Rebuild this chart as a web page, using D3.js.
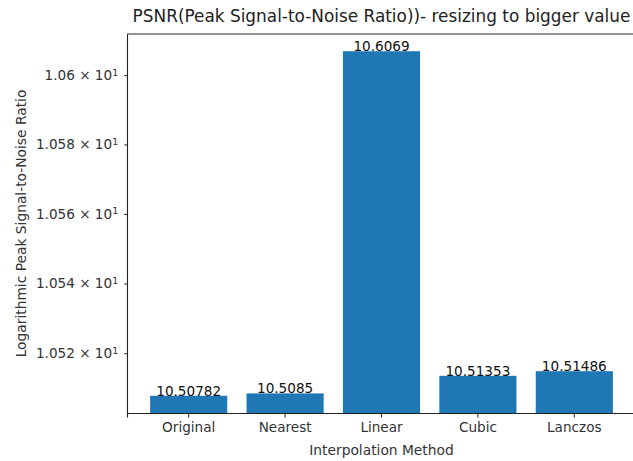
<!DOCTYPE html>
<html>
<head>
<meta charset="utf-8">
<script src="https://cdn.jsdelivr.net/npm/d3@7"></script>
<style>
  html, body { margin: 0; padding: 0; background: #fff; overflow: hidden; }
  svg { display: block; font-family: "DejaVu Sans", sans-serif; }
</style>
</head>
<body>
<div id="chart"></div>
<script>
// chart data
const methods = ['Original', 'Nearest', 'Linear', 'Cubic', 'Lanczos'];
const psnrValues = [10.50782, 10.5085, 10.6069, 10.51353, 10.51486];
const psnrLabels = ['10.50782', '10.5085', '10.6069', '10.51353', '10.51486'];
const yTicks = [10.52, 10.54, 10.56, 10.58, 10.60];
const yTickMantissa = ['1.052', '1.054', '1.056', '1.058', '1.06'];

const width = 633, height = 461;
// axes box (right edge runs past the picture, as in the original)
const margin = { top: 34, left: 127, bottom: 413, right: 636 };

const svg = d3.select('#chart').append('svg')
    .attr('width', width)
    .attr('height', height);

// x scale, matplotlib style: bar width 0.8, 5% margins
const xScale = d3.scaleBand()
    .domain(methods)
    .range([margin.left, margin.right])
    .paddingInner(0.2)
    .paddingOuter(0.24);

// log y scale with 5% margin in log space
const lo = Math.log10(d3.min(psnrValues)), hi = Math.log10(d3.max(psnrValues));
const pad = (hi - lo) * 0.05;
const yScale = d3.scaleLog()
    .domain([Math.pow(10, lo - pad), Math.pow(10, hi + pad)])
    .range([margin.bottom, margin.top]);

// clip for bars
svg.append('clipPath').attr('id', 'plotclip')
  .append('rect')
    .attr('x', margin.left).attr('y', margin.top)
    .attr('width', margin.right - margin.left)
    .attr('height', margin.bottom - margin.top);

svg.append('g').attr('clip-path', 'url(#plotclip)')
  .selectAll('rect')
  .data(psnrValues)
  .join('rect')
    .attr('x', (d, i) => xScale(methods[i]))
    .attr('y', d => yScale(d))
    .attr('width', xScale.bandwidth())
    .attr('height', d => margin.bottom - yScale(d) + 2)
    .attr('fill', '#1f77b4');

// bar value labels
svg.append('g')
  .selectAll('text')
  .data(psnrValues)
  .join('text')
    .attr('x', (d, i) => xScale(methods[i]) + xScale.bandwidth() / 2)
    .attr('y', d => yScale(d))
    .attr('text-anchor', 'middle')
    .attr('font-size', 13.6)
    .attr('fill', '#111')
    .text((d, i) => psnrLabels[i]);

// x axis
const xAxis = d3.axisBottom(xScale).tickSizeOuter(0).tickSize(4.5).tickPadding(5);
const gx = svg.append('g')
    .attr('transform', `translate(0,${margin.bottom})`)
    .call(xAxis);
gx.select('.domain').attr('stroke', '#222').attr('stroke-width', 1.1);
gx.selectAll('.tick line').attr('stroke', '#222');
gx.selectAll('text').attr('font-size', 13.6).attr('fill', '#333').attr('font-family', '"DejaVu Sans", sans-serif');

// y axis (minor ticks only, labelled like matplotlib)
const yAxis = d3.axisLeft(yScale).tickValues(yTicks).tickSize(2.8).tickSizeOuter(0).tickPadding(6).tickFormat(() => '');
const gy = svg.append('g')
    .attr('transform', `translate(${margin.left},0)`)
    .call(yAxis);
gy.select('.domain').attr('stroke', '#222').attr('stroke-width', 1.1);
gy.selectAll('.tick line').attr('stroke', '#222');
gy.selectAll('.tick text')
    .attr('font-size', 13.6)
    .attr('fill', '#333')
    .attr('font-family', '"DejaVu Sans", sans-serif')
    .each(function(d, i) {
      const t = d3.select(this);
      t.append('tspan').text(yTickMantissa[i] + ' \u00d7 10');
      t.append('tspan').attr('dy', '-0.45em').attr('font-size', 9.5).text('1');
    });

// top spine
svg.append('line')
    .attr('x1', margin.left).attr('x2', margin.right)
    .attr('y1', margin.top).attr('y2', margin.top)
    .attr('stroke', '#222').attr('stroke-width', 1.1);

// title and axis labels
svg.append('text')
    .attr('x', (margin.left + margin.right) / 2)
    .attr('y', 22)
    .attr('text-anchor', 'middle')
    .attr('font-size', 16.9)
    .attr('fill', '#222')
    .text('PSNR(Peak Signal-to-Noise Ratio))- resizing to bigger value');

svg.append('text')
    .attr('x', (margin.left + margin.right) / 2)
    .attr('y', 455)
    .attr('text-anchor', 'middle')
    .attr('font-size', 13.8)
    .attr('fill', '#333')
    .text('Interpolation Method');

svg.append('text')
    .attr('transform', `translate(26,${(margin.top + margin.bottom) / 2}) rotate(-90)`)
    .attr('text-anchor', 'middle')
    .attr('font-size', 13.8)
    .attr('fill', '#333')
    .text('Logarithmic Peak Signal-to-Noise Ratio');
</script>
</body>
</html>
